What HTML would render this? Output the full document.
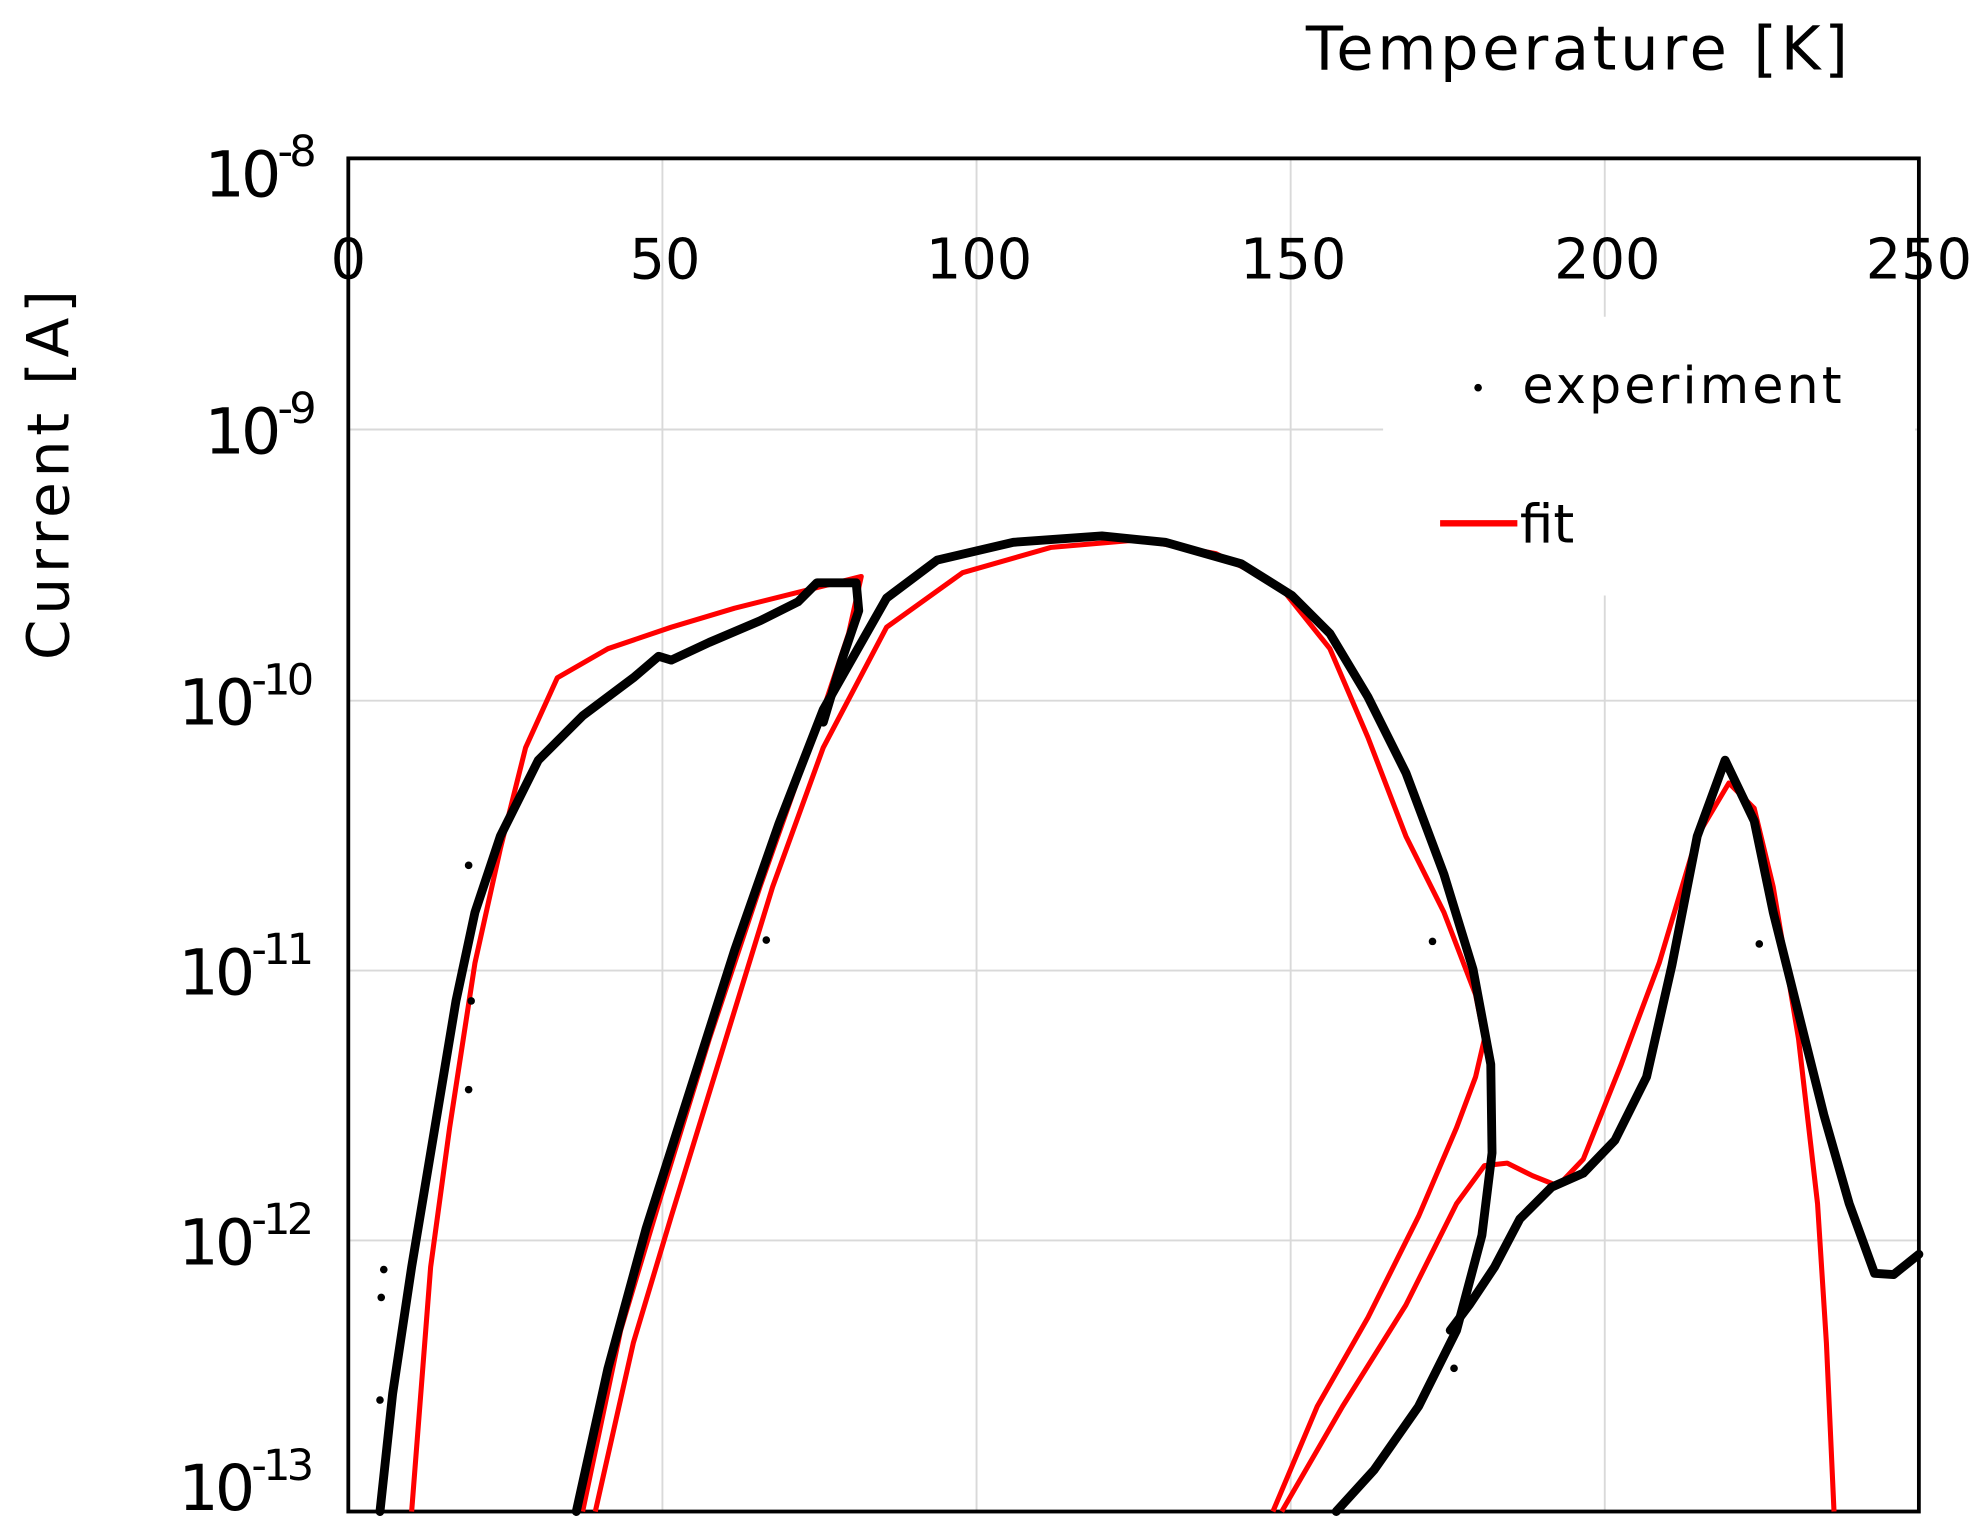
<!DOCTYPE html>
<html><head><meta charset="utf-8"><style>
html,body{margin:0;padding:0;background:#fff;width:1986px;height:1528px;overflow:hidden}
svg{display:block}
text{font-family:"DejaVu Sans","Liberation Sans",sans-serif;fill:#000}
</style></head><body>
<svg width="1986" height="1528" viewBox="0 0 1568 1206" preserveAspectRatio="none">
<rect width="1568" height="1206" fill="#fff"/>
<g stroke="#d9d9d9" stroke-width="1.5">
<line x1="275" y1="339" x2="1515" y2="339"/>
<line x1="275" y1="553" x2="1515" y2="553"/>
<line x1="275" y1="766" x2="1515" y2="766"/>
<line x1="275" y1="979" x2="1515" y2="979"/>
<line x1="523" y1="125" x2="523" y2="1193"/>
<line x1="771" y1="125" x2="771" y2="1193"/>
<line x1="1019" y1="125" x2="1019" y2="1193"/>
<line x1="1267" y1="125" x2="1267" y2="1193"/>
</g>
<rect x="1092" y="250" width="420" height="220" fill="#fff"/>
<rect x="275" y="125" width="1240" height="1068" fill="none" stroke="#000" stroke-width="3"/>
<g font-size="44" text-anchor="middle">
<text x="275" y="220">0</text><text x="525" y="220">50</text><text x="773" y="220">100</text>
<text x="1021" y="220">150</text><text x="1269" y="220">200</text><text x="1515" y="220">250</text>
</g>
<g font-size="50" text-anchor="end" letter-spacing="-3">
<text x="247" y="155">10<tspan font-size="34" dy="-24">-8</tspan></text>
<text x="247" y="358">10<tspan font-size="34" dy="-24">-9</tspan></text>
<text x="245" y="572">10<tspan font-size="34" dy="-24">-10</tspan></text>
<text x="245" y="785">10<tspan font-size="34" dy="-24">-11</tspan></text>
<text x="245" y="998">10<tspan font-size="34" dy="-24">-12</tspan></text>
<text x="245" y="1192">10<tspan font-size="34" dy="-24">-13</tspan></text>
</g>
<text x="1245" y="55" font-size="48" text-anchor="middle" textLength="428">Temperature  [K]</text>
<text transform="translate(54,375) rotate(-90)" font-size="46" text-anchor="middle" textLength="292">Current [A]</text>
<circle cx="1167" cy="306" r="3"/>
<text x="1202" y="318" font-size="40" textLength="252">experiment</text>
<line x1="1137" y1="413" x2="1198" y2="413" stroke="#f00" stroke-width="5"/>
<text x="1200" y="428" font-size="42">fit</text>
<g fill="none" stroke="#f00" stroke-width="4" stroke-linejoin="round">
<path d="M325,1193 L340,1000 L355,890 L375,760 L395,670 L415,590 L440,535 L480,512 L530,495 L580,480 L640,465 L680,455 L670,500 L650,560 L630,615 L600,700 L560,820 L520,950 L490,1050 L460,1193"/>
<path d="M470,1193 L500,1060 L530,960 L570,830 L610,700 L650,590 L700,495 L760,452 L830,432 L900,426 L960,437 L1010,462 L1050,512 L1080,582 L1110,660 L1140,720 L1165,785 L1172,820 L1165,850 L1150,890 L1120,960 L1080,1040 L1040,1110 L1005,1193"/>
<path d="M1012,1193 L1060,1110 L1110,1030 L1150,950 L1172,920 L1190,918 L1210,928 L1230,936 L1250,915 L1280,840 L1310,760 L1340,660 L1365,618 L1385,638 L1400,700 L1420,820 L1435,950 L1442,1060 L1448,1193"/>
</g>
<g fill="none" stroke="#000" stroke-width="7" stroke-linejoin="round" stroke-linecap="round">
<path d="M300,1193 L310,1100 L325,1000 L345,880 L360,790 L375,720 L395,660 L425,600 L460,565 L500,535 L520,518 L530,521 L560,507 L600,490 L630,475 L645,460 L676,460 L678,482 L665,520 L650,570"/>
<path d="M455,1193 L480,1080 L510,970 L545,860 L580,750 L615,650 L650,560 L700,472 L740,442 L800,428 L870,423 L920,428 L980,445 L1020,470 L1050,500 L1080,550 L1110,610 L1140,690 L1163,765 L1177,840 L1178,910 L1170,975 L1150,1050 L1120,1110 L1085,1160 L1055,1193"/>
<path d="M1145,1050 L1160,1030 L1180,1000 L1200,962 L1225,937 L1250,926 L1275,900 L1300,850 L1320,762 L1340,660 L1362,600 L1385,648 L1400,720 L1420,800 L1440,880 L1460,950 L1480,1005 L1495,1006 L1515,990"/>
</g>
<g fill="#000">
<circle cx="370" cy="683" r="3"/><circle cx="372" cy="790" r="3"/><circle cx="370" cy="860" r="3"/>
<circle cx="605" cy="742" r="3"/><circle cx="1131" cy="743" r="3"/><circle cx="1148" cy="1080" r="3"/>
<circle cx="1389" cy="745" r="3"/><circle cx="303" cy="1002" r="3"/><circle cx="301" cy="1024" r="3"/>
<circle cx="300" cy="1105" r="3"/>
</g>
</svg>
</body></html>
